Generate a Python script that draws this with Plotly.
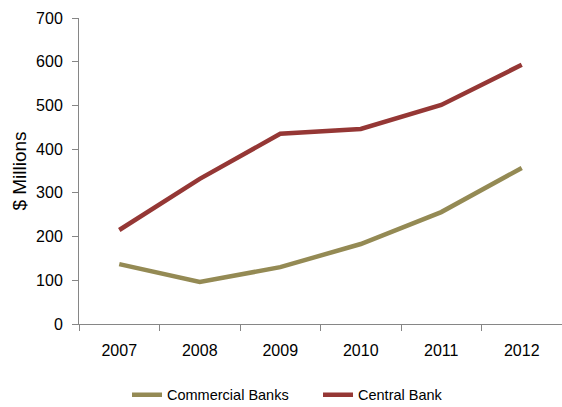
import plotly.graph_objects as go

years = ["2007", "2008", "2009", "2010", "2011", "2012"]
commercial_banks = [137, 96, 130, 183, 256, 357]
central_bank = [215, 332, 435, 446, 501, 593]
y_ticks = [0, 100, 200, 300, 400, 500, 600, 700]

FONT = "Liberation Sans, Arial"

fig = go.Figure()
fig.add_trace(go.Scatter(x=years, y=commercial_banks, mode="lines", name="Commercial Banks",
                         line=dict(color="#948A54", width=4.5)))
fig.add_trace(go.Scatter(x=years, y=central_bank, mode="lines", name="Central Bank",
                         line=dict(color="#953735", width=4.5)))

fig.update_layout(
    width=562, height=407,
    margin=dict(l=79, r=0, t=18, b=83, autoexpand=False),
    paper_bgcolor="white", plot_bgcolor="white",
    font=dict(family=FONT, size=15, color="black"),
    showlegend=True,
    legend=dict(orientation="h", x=0.0994, xanchor="left", yref="container", y=0.03, yanchor="middle",
                font=dict(size=14.5), tracegroupgap=0, entrywidth=146),
)
fig.update_xaxes(type="category", range=[-0.5, 5.5], showline=True, linecolor="#868686", linewidth=1,
                 ticks="outside", tickson="boundaries", ticklen=6, tickcolor="#868686",
                 showgrid=False, tickfont=dict(size=16), ticklabelstandoff=12, automargin=False)
fig.update_yaxes(range=[0, 700], tickvals=y_ticks, showline=True, linecolor="#868686", linewidth=1,
                 ticks="outside", ticklen=6, tickcolor="#868686", showgrid=False, zeroline=False,
                 tickfont=dict(size=16), automargin=False, ticklabelstandoff=6,
                 title=dict(text="$ Millions", font=dict(size=19), standoff=4))

fig.write_html("out.html", config={"displayModeBar": False},
               post_script="document.body.style.margin='0';document.body.style.overflow='hidden';")
